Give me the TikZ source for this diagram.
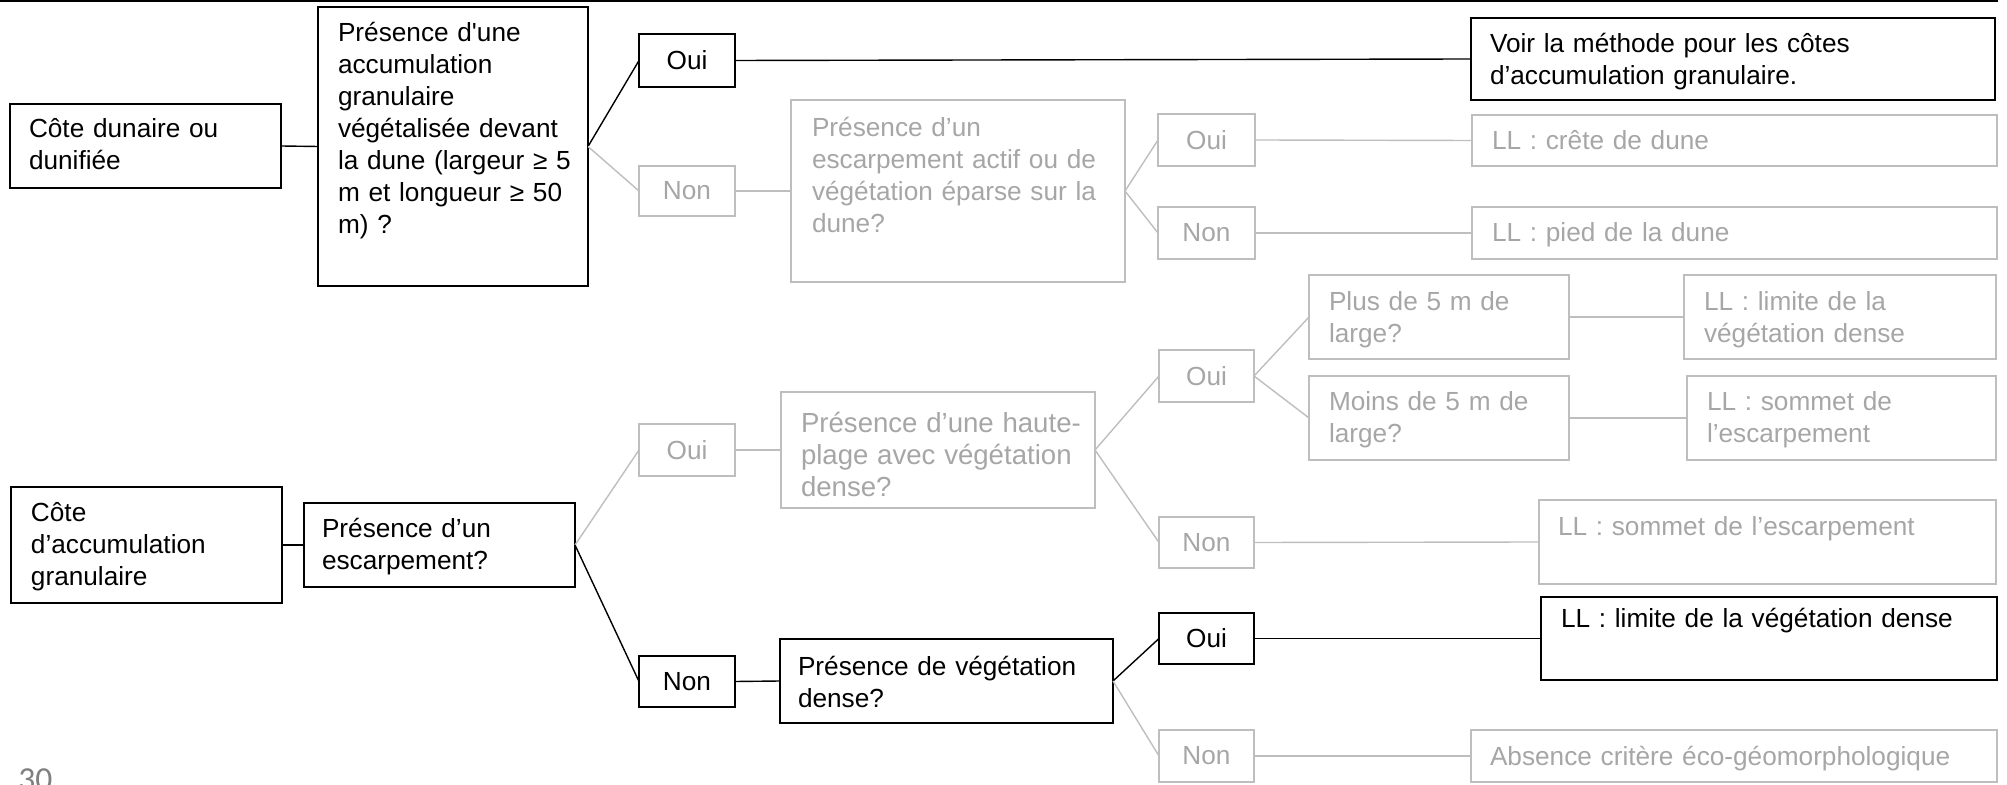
\documentclass[tikz,border=0pt]{standalone}
\usepackage{fontspec}
\setmainfont{Liberation Sans}
\newfontfamily\pagenumfont{Carlito}
\definecolor{txtgray}{RGB}{166,166,166}
\definecolor{linegray}{RGB}{190,190,190}
\definecolor{numgray}{RGB}{128,128,128}
\newcommand{\straightq}{\XeTeXglyph\numexpr\XeTeXcharglyph"27\relax}
\tikzset{
 bbox/.style={draw=black, line width=1pt, rectangle, inner sep=0pt, outer sep=0pt, text=black, font=\fontsize{13.1}{16}\selectfont},
 gbox/.style={bbox, draw=linegray, text=txtgray},
 btxt/.style={anchor=base west, inner sep=0pt, outer sep=0pt, align=left, text=black, font=\fontsize{13.1}{16}\selectfont},
 gtxt/.style={btxt, text=txtgray},
 bline/.style={draw=black, line width=0.7pt},
 gline/.style={draw=linegray, line width=0.7pt},
}
% style, name, x1, y1, x2, y2, text
\newcommand{\mybox}[7]{%
  \pgfmathsetmacro\bw{(#5-#3)*0.5}%
  \pgfmathsetmacro\bh{(#6-#4)*0.5}%
  \node[#1, minimum width=\bw pt, minimum height=\bh pt] (#2) at ({(#3+#5)/2},{(#4+#6)/2}) {#7};}
% style, name, x, baseline y, right edge, text
\newcommand{\mytext}[6]{%
  \pgfmathsetmacro\tw{(#5-#3)*0.5-2}%
  \node[#1, text width=\tw pt] (#2) at (#3,#4) {#6};}
\begin{document}
\begin{tikzpicture}[x=0.5pt, y=-0.5pt]
\useasboundingbox (0,0) rectangle (2007,785);
\draw[line width=1pt] (0,1) -- (1998,1);

% ---------- upper tree ----------
\mybox{bbox}{cd}{10}{104}{281}{188}{}
\mytext{btxt}{cdt}{29}{138}{281}{Côte dunaire ou\\dunifiée}
\mybox{bbox}{qa}{318}{7}{588}{286}{}
\mytext{btxt}{qat}{338}{42}{588}{Présence d\straightq une\\accumulation\\granulaire\\végétalisée devant\\la dune (largeur ≥ 5\\m et longueur ≥ 50\\m) ?}
\mybox{bbox}{oa}{639}{34}{735}{87}{Oui}
\mybox{gbox}{na}{639}{166}{735}{216}{Non}
\mybox{bbox}{voir}{1471}{18}{1995}{100}{}
\mytext{btxt}{voirt}{1490}{53}{1995}{Voir la méthode pour les côtes\\d’accumulation granulaire.}
\mybox{gbox}{qb}{791}{100}{1125}{282}{}
\mytext{gtxt}{qbt}{812}{137}{1125}{Présence d’un\\escarpement actif ou de\\végétation éparse sur la\\dune?}
\mybox{gbox}{ob}{1158}{114}{1255}{166}{Oui}
\mybox{gbox}{nb}{1158}{207}{1255}{259}{Non}
\mybox{gbox}{lla}{1472}{115}{1997}{166}{}
\mytext{gtxt}{llat}{1492}{150}{1997}{LL : crête de dune}
\mybox{gbox}{llb}{1472}{207}{1997}{259}{}
\mytext{gtxt}{llbt}{1492}{242}{1997}{LL : pied de la dune}

\draw[bline] (cd.east) -- (qa.west);
\draw[bline] (qa.east) -- (oa.west);
\draw[gline] (qa.east) -- (na.west);
\draw[bline] (oa.east) -- (voir.west);
\draw[gline] (na.east) -- (qb.west);
\draw[gline] (qb.east) -- (ob.west);
\draw[gline] (qb.east) -- (nb.west);
\draw[gline] (ob.east) -- (lla.west);
\draw[gline] (nb.east) -- (llb.west);

% ---------- lower tree ----------
\mybox{bbox}{ca}{11}{487}{282}{603}{}
\mytext{btxt}{cat}{31}{522}{282}{Côte\\d’accumulation\\granulaire}
\mybox{bbox}{qc}{304}{503}{575}{587}{}
\mytext{btxt}{qct}{322}{538}{575}{Présence d’un\\escarpement?}
\mybox{gbox}{oc}{639}{424}{735}{476}{Oui}
\mybox{bbox}{nc}{639}{656}{735}{707}{Non}
\mybox{gbox}{qd}{781}{392}{1095}{508}{}
\mytext{gtxt}{qdt}{801}{433}{1095}{\fontsize{13.8}{16}\selectfont Présence d’une haute-\\plage avec végétation\\dense?}
\mybox{bbox}{qe}{780}{639}{1113}{723}{}
\mytext{btxt}{qet}{798}{675}{1113}{Présence de végétation\\dense?}
\mybox{gbox}{od}{1159}{350}{1254}{402}{Oui}
\mybox{gbox}{nd}{1159}{517}{1254}{568}{Non}
\mybox{gbox}{plus}{1309}{275}{1569}{359}{}
\mytext{gtxt}{plust}{1329}{311}{1569}{Plus de 5 m de\\large?}
\mybox{gbox}{moins}{1309}{376}{1569}{460}{}
\mytext{gtxt}{moinst}{1329}{411}{1569}{Moins de 5 m de\\large?}
\mybox{gbox}{llc}{1684}{275}{1996}{359}{}
\mytext{gtxt}{llct}{1704}{311}{1996}{LL : limite de la\\végétation dense}
\mybox{gbox}{lld}{1687}{376}{1996}{460}{}
\mytext{gtxt}{lldt}{1707}{411}{1996}{LL : sommet de\\l’escarpement}
\mybox{gbox}{lle}{1539}{500}{1996}{584}{}
\mytext{gtxt}{llet}{1558}{536}{1996}{LL : sommet de l’escarpement}
\mybox{bbox}{oe}{1159}{613}{1254}{664}{Oui}
\mybox{bbox}{llf}{1541}{597}{1997}{680}{}
\mytext{btxt}{llft}{1561}{627}{1997}{LL : limite de la végétation dense}
\mybox{gbox}{ne}{1159}{730}{1254}{782}{Non}
\mybox{gbox}{llg}{1471}{730}{1997}{782}{}
\mytext{gtxt}{llgt}{1490}{765}{1997}{Absence critère éco-géomorphologique}

\draw[bline] (ca.east) -- (qc.west);
\draw[gline] (qc.east) -- (oc.west);
\draw[bline] (qc.east) -- (nc.west);
\draw[gline] (oc.east) -- (qd.west);
\draw[bline] (nc.east) -- (qe.west);
\draw[gline] (qd.east) -- (od.west);
\draw[gline] (qd.east) -- (nd.west);
\draw[gline] (od.east) -- (plus.west);
\draw[gline] (od.east) -- (moins.west);
\draw[gline] (plus.east) -- (llc.west);
\draw[gline] (moins.east) -- (lld.west);
\draw[gline] (nd.east) -- (lle.west);
\draw[bline] (qe.east) -- (oe.west);
\draw[gline] (qe.east) -- (ne.west);
\draw[bline] (oe.east) -- (llf.west);
\draw[gline] (ne.east) -- (llg.west);

\node[anchor=base west, inner sep=0pt, text=numgray, font=\pagenumfont\fontsize{16.8}{20}\selectfont] (pnum) at (18,790) {30};
\end{tikzpicture}
\end{document}
